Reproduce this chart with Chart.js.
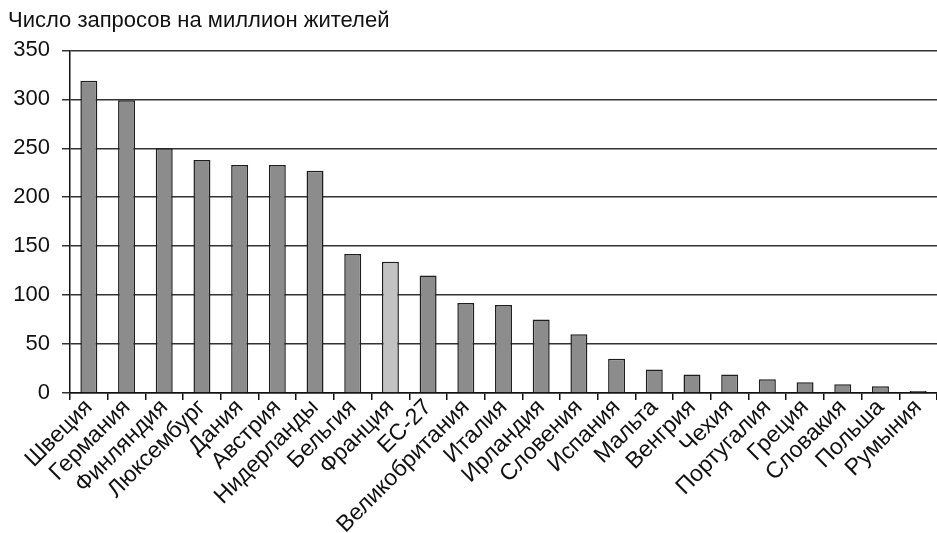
<!DOCTYPE html>
<html>
<head>
<meta charset="utf-8">
<script src="https://cdn.jsdelivr.net/npm/chart.js@4"></script>
<style>
  html, body { margin: 0; padding: 0; background: #fff; }
  #wrap { width: 937px; height: 533px; }
</style>
</head>
<body>
<div id="wrap"><canvas id="zaprosyChart"></canvas></div>
<script>
const strany = ['Швеция', 'Германия', 'Финляндия', 'Люксембург', 'Дания', 'Австрия',
    'Нидерланды', 'Бельгия', 'Франция', 'ЕС-27', 'Великобритания', 'Италия', 'Ирландия',
    'Словения', 'Испания', 'Мальта', 'Венгрия', 'Чехия', 'Португалия', 'Греция',
    'Словакия', 'Польша', 'Румыния'];
const zaprosy = [319, 299, 250, 238, 233, 233, 227, 142, 134, 120, 92, 90, 75, 60, 35, 24,
    19, 19, 14, 11, 9, 7, 2];
const yTicks = [0, 50, 100, 150, 200, 250, 300, 350];

const fontFamily = '"Liberation Sans", Arial, Helvetica, sans-serif';

const zaprosyCtx = document.getElementById('zaprosyChart').getContext('2d');
new Chart(zaprosyCtx, {
    type: 'bar',
    data: {
        labels: strany,
        datasets: [{
            data: zaprosy,
            backgroundColor: strany.map(s => s === 'Франция' ? '#c2c2c2' : '#8c8c8c'),
            borderColor: '#1e1e1e',
            borderWidth: 1.5,
            barPercentage: 0.9,
            categoryPercentage: 0.5
        }]
    },
    options: {
        responsive: true,
        maintainAspectRatio: false,
        animation: false,
        layout: { padding: { left: 8, right: 0, top: 0, bottom: 0 } },
        plugins: {
            legend: { display: false },
            tooltip: { enabled: false },
            title: {
                display: true,
                text: 'Число запросов на миллион жителей',
                align: 'start',
                color: '#111',
                font: { family: fontFamily, size: 22, weight: 'normal' },
                padding: { top: 8, bottom: 16 }
            }
        },
        scales: {
            y: {
                min: 0,
                max: 350,
                afterBuildTicks: axis => { axis.ticks = yTicks.map(v => ({ value: v })); },
                afterFit: axis => { axis.width = 62; },
                ticks: {
                    color: '#111',
                    font: { family: fontFamily, size: 22 },
                    padding: 12
                },
                grid: {
                    color: '#333',
                    lineWidth: 1.5,
                    tickLength: 8
                },
                border: { color: '#111', width: 1.5 }
            },
            x: {
                afterFit: axis => { axis.height = 140; },
                ticks: {
                    color: '#111',
                    font: { family: fontFamily, size: 23 },
                    maxRotation: 45,
                    minRotation: 45,
                    padding: -6,
                    autoSkip: false
                },
                grid: {
                    offset: true,
                    drawOnChartArea: false,
                    color: '#111',
                    lineWidth: 1.5,
                    tickLength: 7
                },
                border: { color: '#111', width: 1.5 }
            }
        }
    }
});
</script>
</body>
</html>
